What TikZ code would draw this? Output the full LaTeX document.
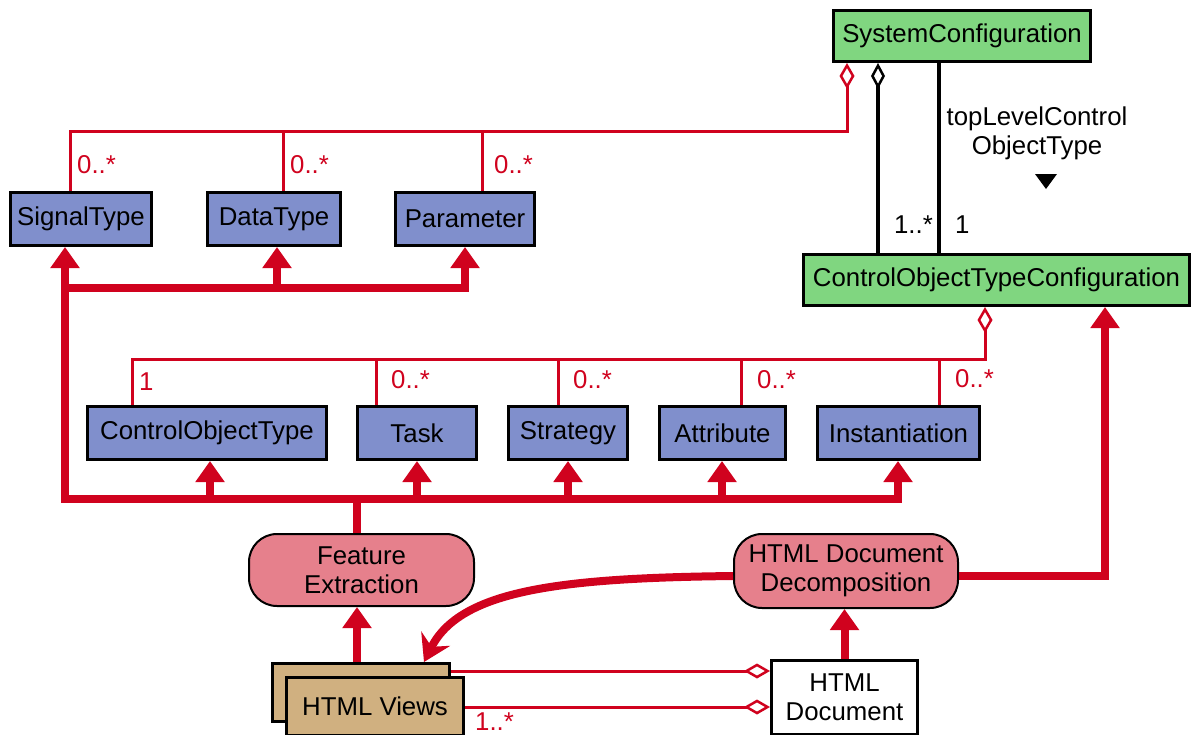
\documentclass[tikz,border=0pt]{standalone}
\usepackage{fontspec}
\setmainfont{Liberation Sans}
\usetikzlibrary{arrows.meta,calc}
\definecolor{umlred}{RGB}{208,2,30}
\definecolor{umlblue}{RGB}{128,143,204}
\definecolor{umlgreen}{RGB}{128,214,128}
\definecolor{umlpink}{RGB}{230,128,140}
\definecolor{umltan}{RGB}{208,176,128}
\tikzset{
  box/.style={draw=black, line width=3pt, inner sep=0pt, minimum height=53pt, align=center},
  bluebox/.style={box, fill=umlblue},
  greenbox/.style={box, fill=umlgreen, minimum height=51pt},
  tanbox/.style={box, fill=umltan, minimum width=177pt, minimum height=58pt},
  procbox/.style={draw=black, line width=2pt, fill=umlpink, rounded corners=28pt, inner sep=0pt, align=center},
  bar/.style={umlred, line width=8pt, line join=miter},
  inh/.style={bar, -{Triangle[width=28pt,length=21pt]}},
  thinred/.style={umlred, line width=3pt, line join=miter},
  agg/.style={thinred, {Diamond[open,width=15pt,length=26pt,line width=2.5pt]}-},
  blackline/.style={black, line width=3.5pt},
  mult/.style={text=umlred, inner sep=0pt, anchor=west}
}
\begin{document}
\begin{tikzpicture}[x=1pt,y=-1pt,font=\fontsize{25.8}{29}\selectfont]
\useasboundingbox (0,0) rectangle (1194,734);
\clip (0,0) rectangle (1194,734);

% classes
\node[greenbox, minimum width=257pt] (sc) at (962,36) {SystemConfiguration};
\node[greenbox, minimum width=386pt] (cotc) at (996.5,280) {ControlObjectTypeConfiguration};
\node[bluebox, minimum width=141pt] (st) at (81,219) {SignalType};
\node[bluebox, minimum width=133pt] (dt) at (274,219) {DataType};
\node[bluebox, minimum width=139pt] (par) at (465,219) {Parameter};
\node[bluebox, minimum width=239pt] (cot) at (207,433) {ControlObjectType};
\node[bluebox, minimum width=119pt] (task) at (417,433) {Task};
\node[bluebox, minimum width=119pt] (strat) at (568,433) {Strategy};
\node[bluebox, minimum width=126pt] (attr) at (722.5,433) {Attribute};
\node[bluebox, minimum width=162pt] (inst) at (898.5,433) {Instantiation};
\node[procbox, minimum width=225pt, minimum height=72pt] (fe) at (361.5,570) {Feature\\Extraction};
\node[procbox, minimum width=224pt, minimum height=74pt] (hdd) at (846,571) {HTML Document\\Decomposition};
\node[box, fill=white, minimum width=146pt, minimum height=74pt] (hd) at (844.5,697.5) {HTML\\Document};
\node[tanbox] (hvb) at (361,692.5) {};

% junction coordinates
\coordinate (sca) at (847,131);
\coordinate (b1) at (70,131);
\coordinate (b2) at (283,131);
\coordinate (b3) at (482,131);
\coordinate (k1) at (878,0);
\coordinate (k2) at (939,0);
\coordinate (c0) at (985,359);
\coordinate (c1) at (132,359);
\coordinate (c2) at (376,359);
\coordinate (c3) at (558,359);
\coordinate (c4) at (741,359);
\coordinate (c5) at (939,359);
\coordinate (g0) at (65,499);
\coordinate (g1) at (357,499);
\coordinate (acot) at (210,499);
\coordinate (atask) at (417,499);
\coordinate (astr) at (568,499);
\coordinate (aattr) at (722,499);
\coordinate (ainst) at (898,499);
\coordinate (h0) at (65,288);
\coordinate (h1) at (277,288);
\coordinate (h2) at (465,288);
\coordinate (e1) at (1105,576);
\coordinate (hvt) at (424,0);
\coordinate (l1) at (0,671);
\coordinate (l2) at (0,707);

% aggregation SystemConfiguration -> SignalType/DataType/Parameter
\draw[agg] (sca |- sc.south) -- (sca) -- (b1) -- (b1 |- st.north);
\draw[thinred] (b2) -- (b2 |- dt.north);
\draw[thinred] (b3) -- (b3 |- par.north);

% black associations
\draw[blackline, {Diamond[open,width=14pt,length=26pt,line width=2.5pt]}-] (k1 |- sc.south) -- (k1 |- cotc.north);
\draw[blackline] (k2 |- sc.south) -- (k2 |- cotc.north);

% aggregation ControlObjectTypeConfiguration -> classes
\draw[agg] (c0 |- cotc.south) -- (c0) -- (c1) -- (c1 |- cot.north);
\draw[thinred] (c2) -- (c2 |- task.north);
\draw[thinred] (c3) -- (c3 |- strat.north);
\draw[thinred] (c4) -- (c4 |- attr.north);
\draw[thinred] (c5) -- (c5 |- inst.north);

% generalisation lines
\draw[bar, {Triangle[width=28pt,length=21pt]}-{Triangle[width=28pt,length=21pt]}]
  (g0 |- st.south) -- (g0) -- (ainst) -- (ainst |- inst.south);
\draw[bar] (g1 |- fe.north) -- (g1);
\draw[inh] (acot) -- (acot |- cot.south);
\draw[inh] (atask) -- (atask |- task.south);
\draw[inh] (astr) -- (astr |- strat.south);
\draw[inh] (aattr) -- (aattr |- attr.south);
\draw[inh] (h0) -- (h2) -- (h2 |- par.south);
\draw[inh] (h1) -- (h1 |- dt.south);
\draw[inh] (e1 -| hdd.east) -- (e1) -- (e1 |- cotc.south);
\draw[inh] (g1 |- hvb.north) -- (g1 |- fe.south);
\draw[inh] (hd.north) -- (hd.north |- hdd.south);

% curved arrow
\draw[umlred, line width=8pt, -{Stealth[width=32pt,length=26pt,inset=9pt]}]
  (e1 -| hdd.west) .. controls (560,578) and (460,590) .. (hvt |- hvb.north);

% HTML Views aggregations
\draw[agg] (l1 -| hd.west) -- (l1 -| hvb.east);
\node[tanbox] (hv) at (375,706.5) {HTML Views};
\draw[agg] (l2 -| hd.west) -- (l2 -| hv.east);

% multiplicities
\node[mult] (m1) at (77,165) {0..*};
\node[mult] (m2) at (290,165) {0..*};
\node[mult] (m3) at (494,165) {0..*};
\node[mult] (m4) at (139,382) {1};
\node[mult] (m5) at (391,380) {0..*};
\node[mult] (m6) at (573,380) {0..*};
\node[mult] (m7) at (757,380) {0..*};
\node[mult] (m8) at (955,379) {0..*};
\node[mult] (m9) at (475,722) {1..*};
\node[inner sep=0pt, anchor=east] (m10) at (933,225) {1..*};
\node[inner sep=0pt, anchor=west] (m11) at (955,225) {1};
\node[inner sep=0pt, align=center] (role) at (1037,133) {topLevelControl\\ObjectType};
\fill (1035,174) -- (1057,174) -- (1046,189) -- cycle;
\end{tikzpicture}
\end{document}
